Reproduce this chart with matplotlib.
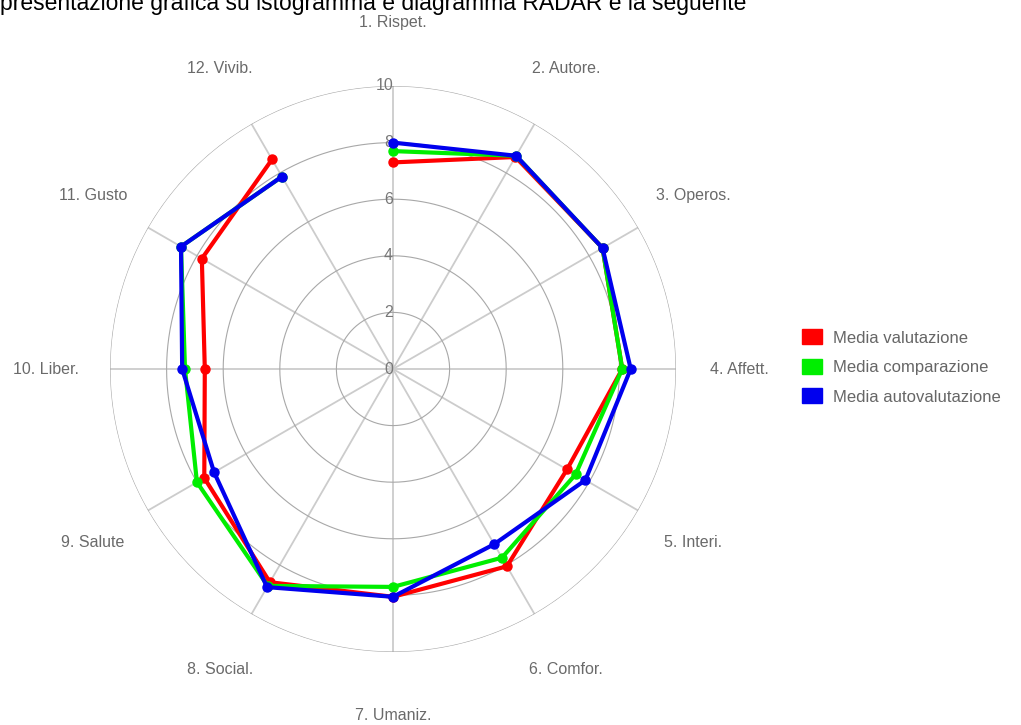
import numpy as np
import matplotlib.pyplot as plt
from matplotlib.patches import Patch

plt.rcParams['font.family'] = ['Liberation Sans', 'DejaVu Sans']

##axis names, clockwise from the top
labels = ['1. Rispet.', '2. Autore.', '3. Operos.', '4. Affett.', '5. Interi.',
          '6. Comfor.', '7. Umaniz.', '8. Social.', '9. Salute', '10. Liber.',
          '11. Gusto', '12. Vivib.']

valutazione = [7.3, 8.65, 8.55, 8.1, 7.1, 8.05, 8.05, 8.7, 7.7, 6.65, 7.8, 8.55]
comparazione = [7.7, 8.7, 8.55, 8.1, 7.45, 7.7, 7.7, 8.85, 8.0, 7.35, 8.65, 7.85]
autovalutazione = [8.0, 8.7, 8.55, 8.4, 7.85, 7.15, 8.05, 8.9, 7.3, 7.45, 8.65, 7.85]

series = [('Media valutazione', valutazione, '#ff0000'),
          ('Media comparazione', comparazione, '#00ee00'),
          ('Media autovalutazione', autovalutazione, '#0000ee')]

rings = [2, 4, 6, 8, 10]

fig = plt.figure(figsize=(10.21, 7.25), dpi=100)
fig.text(0.0, 1 - 10 / 725, 'presentazione grafica su istogramma e diagramma RADAR è la seguente',
         fontsize=16.5, color='black', ha='left', va='baseline')

##polar axes, centre at (393, 369) px, radius 283 px
ax = fig.add_axes([110 / 1021, 73 / 725, 566 / 1021, 566 / 725], projection='polar')
ax.set_theta_zero_location('N')
ax.set_theta_direction(-1)
ax.set_ylim(0, 10)
ax.grid(False)
ax.set_xticks([])
ax.set_yticks([])
ax.spines['polar'].set_visible(False)
ax.patch.set_alpha(0)

theta = np.arange(len(labels)) * 2 * np.pi / len(labels)
circle = np.linspace(0, 2 * np.pi, 361)

##grid: spokes and rings
for t in theta:
    ax.plot([t, t], [0, 10], color='#cccccc', lw=1.3, zorder=1)
for r in rings:
    ax.plot(circle, np.full_like(circle, r), color='#a8a8a8', lw=0.8, zorder=1)

##ring values along the top spoke
for r in [0] + rings:
    ax.text(0, r, str(r), ha='right', va='center', fontsize=11.5, color='#777777', zorder=2)

##axis names
for t, name in zip(theta, labels):
    ax.text(t, 12.25, name, ha='center', va='center', fontsize=11.5,
            color='#6a6a6a', clip_on=False)

for name, vals, col in series:
    ax.plot(theta, vals, color=col, lw=3, marker='o', ms=6.5, zorder=3,
            solid_joinstyle='round')

handles = [Patch(facecolor=col, edgecolor=col, label=name) for name, vals, col in series]
fig.legend(handles=handles, loc='center left', bbox_to_anchor=(802 / 1021, 1 - 367 / 725),
           frameon=False, fontsize=12, handlelength=1.2, handleheight=1.0,
           handletextpad=0.65, labelspacing=0.8, borderpad=0, borderaxespad=0,
           labelcolor='#666666')

fig.savefig('out.png', dpi=100)
